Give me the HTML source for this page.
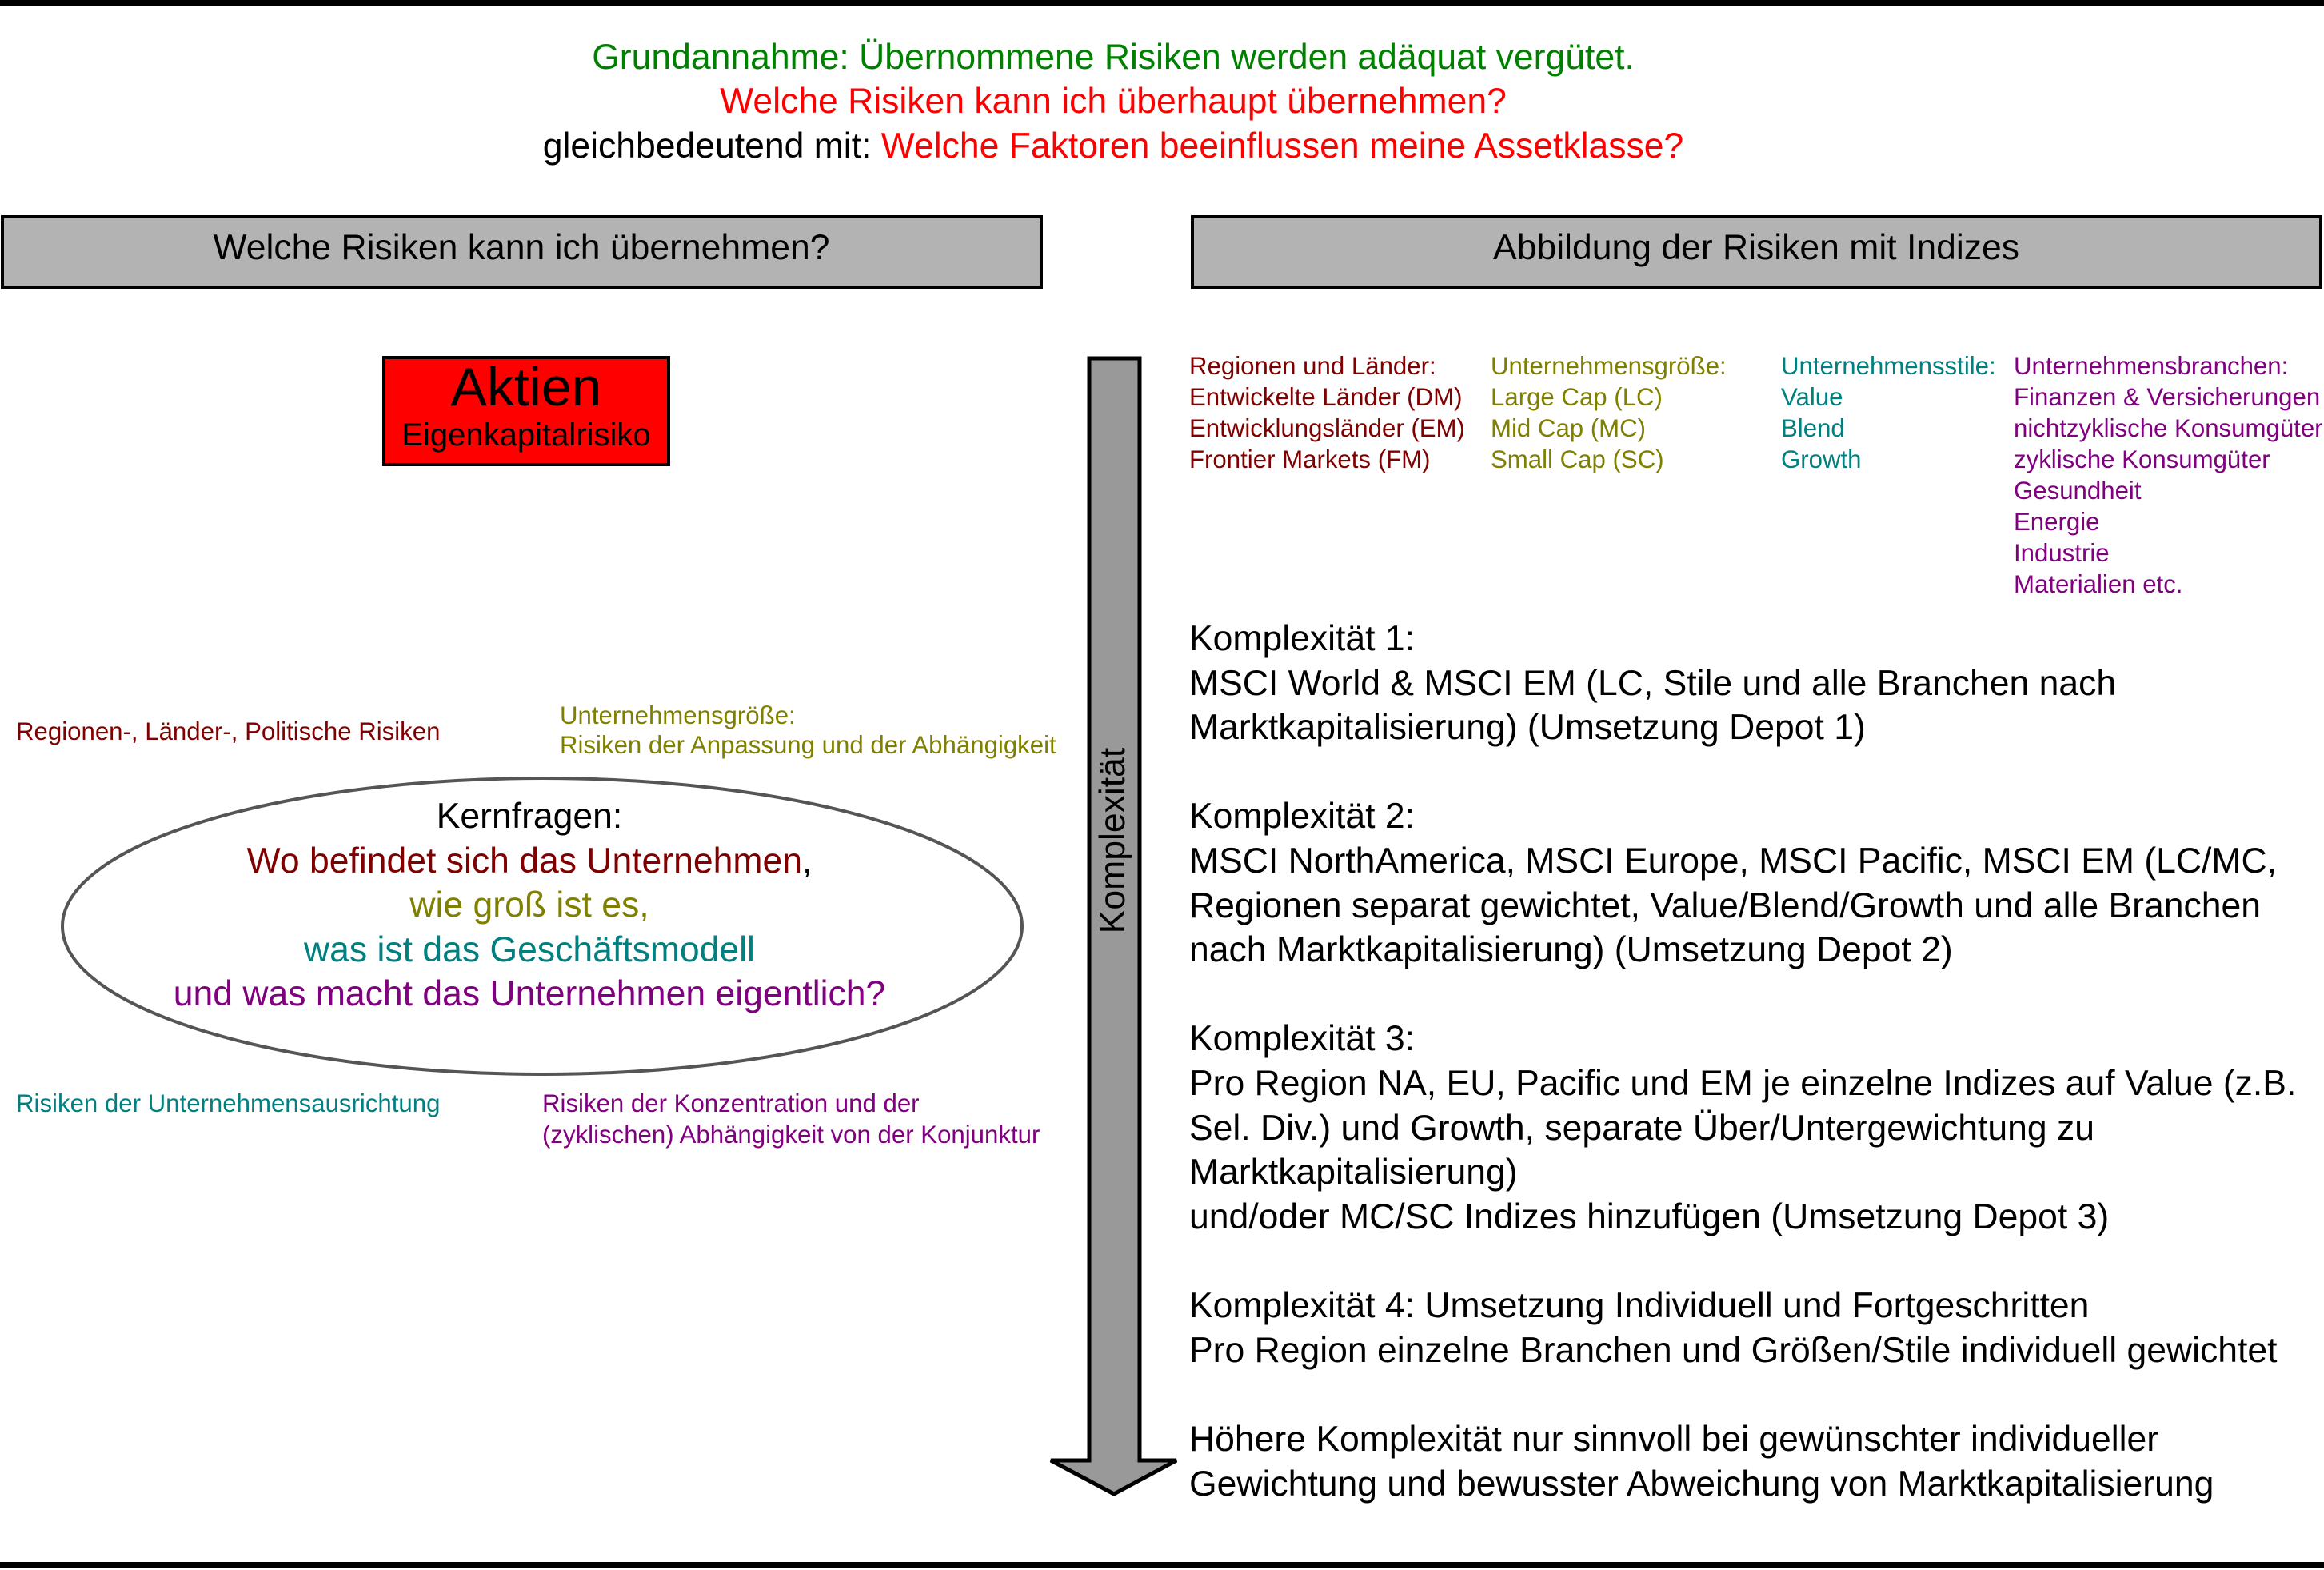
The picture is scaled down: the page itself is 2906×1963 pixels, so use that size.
<!DOCTYPE html>
<html><head><meta charset="utf-8"><style>
html,body{margin:0;padding:0;background:#fff}
svg{display:block}
text{font-family:"Liberation Sans",Arial,sans-serif}
</style></head><body>
<svg width="2906" height="1963" viewBox="0 0 2906 1963" xmlns="http://www.w3.org/2000/svg">
<rect x="0" y="0" width="2906" height="8" fill="#000"/>
<rect x="0" y="1953" width="2906" height="8" fill="#000"/>

<g font-size="44.5" text-anchor="middle">
<text x="1392" y="86" fill="#008000">Grundannahme: Übernommene Risiken werden adäquat vergütet.</text>
<text x="1392" y="141" fill="#ff0000">Welche Risiken kann ich überhaupt übernehmen?</text>
<text x="1392" y="197" fill="#000">gleichbedeutend mit: <tspan fill="#ff0000">Welche Faktoren beeinflussen meine Assetklasse?</tspan></text>
</g>

<rect x="3" y="271" width="1299" height="88" fill="#b3b3b3" stroke="#000" stroke-width="4"/>
<text x="652" y="324" font-size="44.5" text-anchor="middle">Welche Risiken kann ich übernehmen?</text>
<rect x="1491" y="271" width="1411" height="88" fill="#b3b3b3" stroke="#000" stroke-width="4"/>
<text x="2196" y="324" font-size="44.5" text-anchor="middle">Abbildung der Risiken mit Indizes</text>

<rect x="480" y="447" width="356" height="134" fill="#ff0000" stroke="#000" stroke-width="4"/>
<text x="658" y="507" font-size="68" text-anchor="middle">Aktien</text>
<text x="658" y="557" font-size="40" text-anchor="middle">Eigenkapitalrisiko</text>

<polygon points="1362,448 1425,448 1425,1826 1471,1826 1393,1868 1314,1826 1362,1826" fill="#999" stroke="#000" stroke-width="5" stroke-linejoin="miter"/>
<text x="0" y="0" font-size="44.5" text-anchor="middle" transform="translate(1406,1051) rotate(-90)">Komplexität</text>

<g font-size="31.2">
<text x="20" y="925" fill="#800000">Regionen-, Länder-, Politische Risiken</text>
<text x="700" y="905" fill="#808000">Unternehmensgröße:</text>
<text x="700" y="942" fill="#808000">Risiken der Anpassung und der Abhängigkeit</text>
<text x="20" y="1390" fill="#008080">Risiken der Unternehmensausrichtung</text>
<text x="678" y="1390" fill="#800080">Risiken der Konzentration und der</text>
<text x="678" y="1429" fill="#800080">(zyklischen) Abhängigkeit von der Konjunktur</text>
</g>

<ellipse cx="678" cy="1158" rx="600" ry="185" fill="none" stroke="#555" stroke-width="4"/>
<g font-size="44.5" text-anchor="middle">
<text x="662" y="1035" fill="#000">Kernfragen:</text>
<text x="662" y="1091"><tspan fill="#800000">Wo befindet sich das Unternehmen</tspan><tspan fill="#000">,</tspan></text>
<text x="662" y="1146" fill="#808000">wie groß ist es,</text>
<text x="662" y="1202" fill="#008080">was ist das Geschäftsmodell</text>
<text x="662" y="1257" fill="#800080">und was macht das Unternehmen eigentlich?</text>
</g>

<g font-size="31.2">
<g fill="#800000">
<text x="1487" y="468">Regionen und Länder:</text>
<text x="1487" y="507">Entwickelte Länder (DM)</text>
<text x="1487" y="546">Entwicklungsländer (EM)</text>
<text x="1487" y="585">Frontier Markets (FM)</text>
</g>
<g fill="#808000">
<text x="1864" y="468">Unternehmensgröße:</text>
<text x="1864" y="507">Large Cap (LC)</text>
<text x="1864" y="546">Mid Cap (MC)</text>
<text x="1864" y="585">Small Cap (SC)</text>
</g>
<g fill="#008080">
<text x="2227" y="468">Unternehmensstile:</text>
<text x="2227" y="507">Value</text>
<text x="2227" y="546">Blend</text>
<text x="2227" y="585">Growth</text>
</g>
<g fill="#800080">
<text x="2518" y="468">Unternehmensbranchen:</text>
<text x="2518" y="507">Finanzen &amp; Versicherungen</text>
<text x="2518" y="546">nichtzyklische Konsumgüter</text>
<text x="2518" y="585">zyklische Konsumgüter</text>
<text x="2518" y="624">Gesundheit</text>
<text x="2518" y="663">Energie</text>
<text x="2518" y="702">Industrie</text>
<text x="2518" y="741">Materialien etc.</text>
</g>
</g>

<g font-size="44.5" fill="#000">
<text x="1487" y="813">Komplexität 1:</text>
<text x="1487" y="869">MSCI World &amp; MSCI EM (LC, Stile und alle Branchen nach</text>
<text x="1487" y="924">Marktkapitalisierung) (Umsetzung Depot 1)</text>
<text x="1487" y="1035">Komplexität 2:</text>
<text x="1487" y="1091">MSCI NorthAmerica, MSCI Europe, MSCI Pacific, MSCI EM (LC/MC,</text>
<text x="1487" y="1147">Regionen separat gewichtet, Value/Blend/Growth und alle Branchen</text>
<text x="1487" y="1202">nach Marktkapitalisierung) (Umsetzung Depot 2)</text>
<text x="1487" y="1313">Komplexität 3:</text>
<text x="1487" y="1369">Pro Region NA, EU, Pacific und EM je einzelne Indizes auf Value (z.B.</text>
<text x="1487" y="1425">Sel. Div.) und Growth, separate Über/Untergewichtung zu</text>
<text x="1487" y="1480">Marktkapitalisierung)</text>
<text x="1487" y="1536">und/oder MC/SC Indizes hinzufügen (Umsetzung Depot 3)</text>
<text x="1487" y="1647">Komplexität 4: Umsetzung Individuell und Fortgeschritten</text>
<text x="1487" y="1703">Pro Region einzelne Branchen und Größen/Stile individuell gewichtet</text>
<text x="1487" y="1814">Höhere Komplexität nur sinnvoll bei gewünschter individueller</text>
<text x="1487" y="1870">Gewichtung und bewusster Abweichung von Marktkapitalisierung</text>
</g>
</svg>
</body></html>
